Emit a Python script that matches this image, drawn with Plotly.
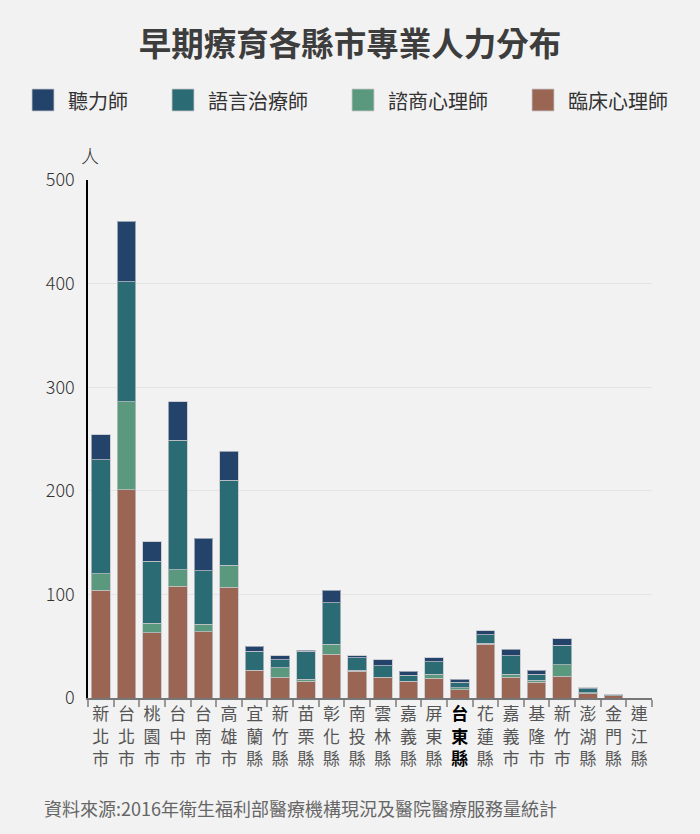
import plotly.graph_objects as go

counties = ["新北市", "台北市", "桃園市", "台中市", "台南市", "高雄市", "宜蘭縣", "新竹縣",
            "苗栗縣", "彰化縣", "南投縣", "雲林縣", "嘉義縣", "屏東縣", "台東縣", "花蓮縣",
            "嘉義市", "基隆市", "新竹市", "澎湖縣", "金門縣", "連江縣"]
clinical = [104, 201, 63, 108, 64, 107, 27, 20, 16, 42, 26, 20, 16, 19, 8, 52, 20, 15, 21, 4, 2, 0]
counseling = [16, 85, 9, 16, 7, 21, 0, 9, 2, 10, 1, 0, 0, 4, 2, 1, 3, 2, 11, 1, 0, 0]
speech = [110, 116, 60, 125, 52, 82, 18, 8, 27, 40, 12, 11, 6, 12, 5, 8, 18, 6, 19, 4, 1, 0]
hearing = [24, 58, 19, 37, 31, 28, 5, 4, 1, 12, 2, 6, 4, 4, 3, 4, 6, 4, 6, 1, 0, 0]
highlight = "台東縣"

series_names = ["聽力師", "語言治療師", "諮商心理師", "臨床心理師"]
series_colors = ["#23436b", "#2b6c74", "#5a997e", "#9a6552"]
stack_order = [("臨床心理師", clinical), ("諮商心理師", counseling),
               ("語言治療師", speech), ("聽力師", hearing)]

FONT = "Noto Sans CJK TC"
W, H = 700, 834
L, R, T, B = 88, 48, 180, 136
pw, ph = W - L - R, H - T - B


def px(x):
    return (x - L) / pw


def py(y):
    return (H - B - y) / ph


fig = go.Figure()
color_of = dict(zip(series_names, series_colors))
for name, vals in stack_order:
    fig.add_trace(go.Bar(
        x=counties, y=vals, name=name, showlegend=False,
        marker=dict(color=color_of[name], line=dict(color="rgba(195,195,200,0.75)", width=1)),
    ))


def vert(label):
    chars = list(label)
    if label == highlight:
        return "<br>".join(f"<b><span style='color:#000'>{c}</span></b>" for c in chars)
    return "<br>".join(chars)


# manual legend
shapes = []
annotations = []
sq_left = [32, 172, 352, 532]
for i, (nm, col) in enumerate(zip(series_names, series_colors)):
    x0 = sq_left[i]
    shapes.append(dict(type="rect", xref="paper", yref="paper",
                       x0=px(x0), x1=px(x0 + 22), y0=py(111), y1=py(89),
                       fillcolor=col, line=dict(color="rgba(200,200,205,0.8)", width=1)))
    annotations.append(dict(xref="paper", yref="paper", x=px(x0 + 34), y=py(100),
                            xanchor="left", yanchor="middle", text=nm, showarrow=False,
                            font=dict(family=FONT, size=20, color="#333")))

annotations.append(dict(xref="paper", yref="paper", x=px(79), y=py(155),
                        xanchor="left", yanchor="middle", text="人", showarrow=False,
                        font=dict(family=FONT, size=18, color="#333", weight=300)))
annotations.append(dict(xref="paper", yref="paper", x=px(42), y=py(808),
                        xanchor="left", yanchor="middle",
                        text="資料來源:2016年衛生福利部醫療機構現況及醫院醫療服務量統計",
                        showarrow=False, font=dict(family=FONT, size=18, color="#666")))

fig.update_layout(
    width=W, height=H,
    margin=dict(l=L, r=R, t=T, b=B),
    barmode="stack", bargap=0.27,
    paper_bgcolor="#f2f2f2", plot_bgcolor="#f2f2f2",
    font=dict(family=FONT, color="#333"),
    title=dict(text="<b>早期療育各縣市專業人力分布</b>", x=0.5, xanchor="center",
               xref="container", yref="container", y=1 - 45 / H, yanchor="middle",
               font=dict(family=FONT, size=32.5, color="#3d3d3d")),
    shapes=shapes, annotations=annotations,
    showlegend=False,
    xaxis=dict(type="category", tickvals=counties, ticktext=[vert(c) for c in counties],
               tickangle=0, automargin=False,
               tickfont=dict(family=FONT, size=17, color="#555"),
               showline=True, linecolor="#777", linewidth=2,
               ticks="outside", tickson="boundaries", ticklen=7, tickcolor="#999", tickwidth=2,
               showgrid=False, fixedrange=True),
    yaxis=dict(range=[0, 500], dtick=100, showline=True, linecolor="#000", linewidth=1.5,
               showgrid=True, gridcolor="#e4e4e4", gridwidth=1, zeroline=False, automargin=False,
               tickfont=dict(family=FONT, size=18, color="#333", weight=300),
               ticks="", ticklabelstandoff=8),
)

fig.write_html(
    "out.html",
    config={"displayModeBar": False},
    post_script="document.body.style.margin='0';document.body.style.background='#f2f2f2';",
)
